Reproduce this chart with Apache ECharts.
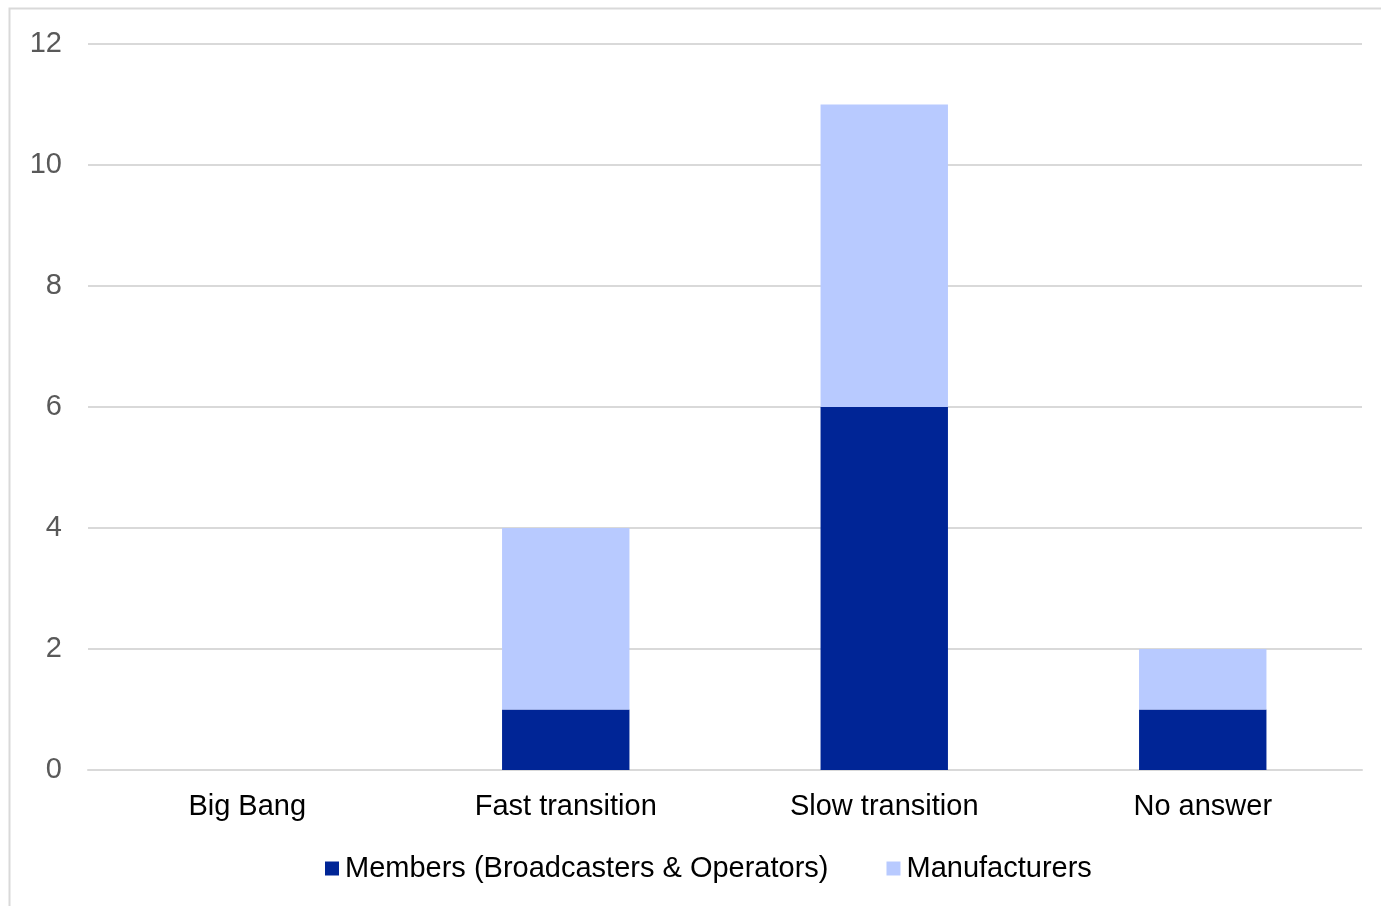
<!DOCTYPE html>
<html>
<head>
<meta charset="utf-8">
<script src="https://cdn.jsdelivr.net/npm/echarts@6/dist/echarts.min.js"></script>
<style>
  html, body { margin: 0; padding: 0; background: #fff; }
  #chart { width: 1381px; height: 906px; }
</style>
</head>
<body>
<div id="chart"></div>
<script>
// Survey responses by transition approach
const categories = ['Big Bang', 'Fast transition', 'Slow transition', 'No answer'];
const membersValues = [0, 1, 6, 1];
const manufacturersValues = [0, 3, 5, 1];
const seriesNames = ['Members (Broadcasters & Operators)', 'Manufacturers'];

const chart = echarts.init(document.getElementById('chart'));
const font = '"Liberation Sans", Arial, sans-serif';

chart.setOption({
  animation: false,
  backgroundColor: '#ffffff',
  graphic: [{
    type: 'rect',
    shape: { x: 9.5, y: 8.5, width: 1400, height: 1000 },
    style: { fill: 'none', stroke: '#d9d9d9', lineWidth: 2 },
    silent: true
  }],
  grid: { left: 88, right: 19, top: 44, bottom: 136, containLabel: false },
  legend: {
    bottom: 18,
    left: 320,
    itemWidth: 14,
    itemHeight: 14,
    itemGap: 58,
    icon: 'rect',
    textStyle: { fontFamily: font, fontSize: 29, color: '#000000', padding: [0, 0, 0, 1] },
    data: seriesNames
  },
  xAxis: {
    type: 'category',
    data: categories,
    axisLine: { show: true, lineStyle: { color: '#d9d9d9', width: 2 } },
    axisTick: { show: false },
    axisLabel: { fontFamily: font, fontSize: 29, color: '#000000', margin: 22 }
  },
  yAxis: {
    type: 'value',
    min: 0,
    max: 12,
    interval: 2,
    axisLine: { show: false },
    axisTick: { show: false },
    axisLabel: { fontFamily: font, fontSize: 29, color: '#595959', margin: 26 },
    splitLine: { lineStyle: { color: '#d9d9d9', width: 2 } }
  },
  series: [
    {
      name: seriesNames[0],
      type: 'bar',
      stack: 'total',
      barWidth: '40%',
      itemStyle: { color: '#002596' },
      data: membersValues
    },
    {
      name: seriesNames[1],
      type: 'bar',
      stack: 'total',
      barWidth: '40%',
      itemStyle: { color: '#b8caff' },
      data: manufacturersValues
    }
  ]
});
</script>
</body>
</html>
